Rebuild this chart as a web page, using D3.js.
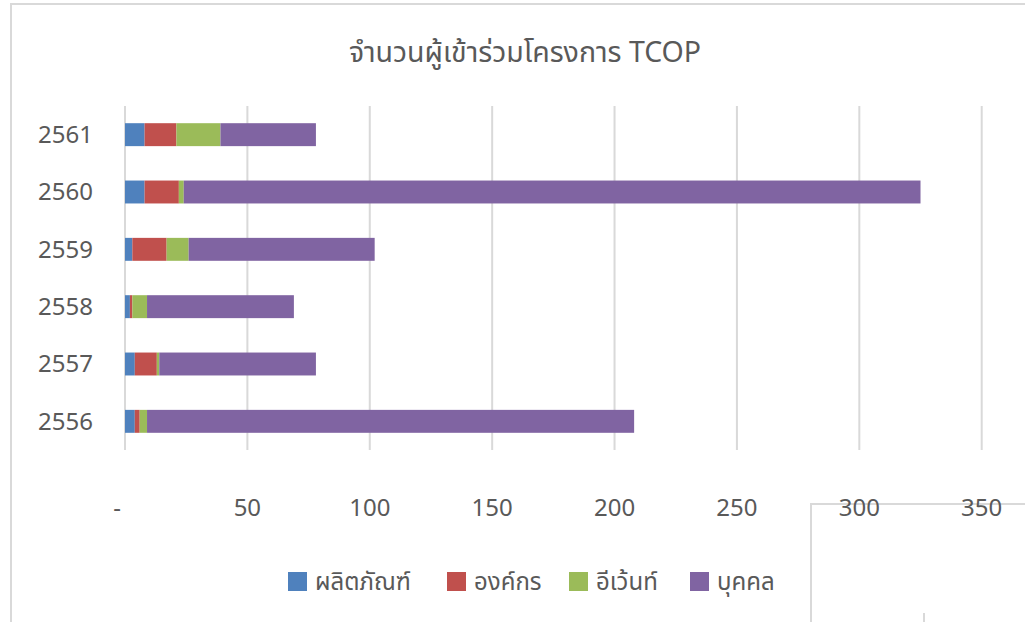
<!DOCTYPE html>
<html>
<head>
<meta charset="utf-8">
<script src="https://cdn.jsdelivr.net/npm/d3@7"></script>
<style>
  html, body { margin: 0; padding: 0; background: #fff; }
  svg { display: block; }
  text { font-family: "Noto Sans Thai", "Noto Sans", "DejaVu Sans", sans-serif; fill: #595959; }
</style>
</head>
<body>
<svg id="chart" width="1025" height="622"></svg>
<script>
const title = "จำนวนผู้เข้าร่วมโครงการ TCOP";
const years = ["2561", "2560", "2559", "2558", "2557", "2556"];
const seriesNames = ["ผลิตภัณฑ์", "องค์กร", "อีเว้นท์", "บุคคล"];
const seriesColors = ["#4f81bd", "#c0504d", "#9bbb59", "#8064a2"];
const product = [8, 8, 3, 2, 4, 4];
const organization = [13, 14, 14, 1, 9, 2];
const eventVals = [18, 2, 9, 6, 1, 3];
const person = [39, 301, 76, 60, 64, 199];
const tickValues = [0, 50, 100, 150, 200, 250, 300, 350];
const tickLabels = ["-", "50", "100", "150", "200", "250", "300", "350"];

const svg = d3.select("#chart");
const gridColor = "#d9d9d9";

// chart frame (outer border of the chart object)
svg.append("path")
  .attr("d", "M11,622 L11,4 L1025,4")
  .attr("fill", "none").attr("stroke", gridColor).attr("stroke-width", 2);

const x = d3.scaleLinear().domain([0, 350]).range([125, 981.7]);
const y = d3.scaleBand().domain(years).range([106, 450]).paddingInner(0.6).paddingOuter(0.3);

// title
svg.append("text")
  .attr("x", 525).attr("y", 62)
  .attr("text-anchor", "middle")
  .style("font-size", "28.5px")
  .text(title);

// gridlines
svg.append("g").selectAll("line").data(tickValues).join("line")
  .attr("x1", d => x(d)).attr("x2", d => x(d))
  .attr("y1", 106).attr("y2", 450)
  .attr("stroke", gridColor).attr("stroke-width", 2);

// stacked bars
const stackData = years.map((yr, i) => {
  const vals = [product[i], organization[i], eventVals[i], person[i]];
  const o = { year: yr };
  seriesNames.forEach((s, k) => o[s] = vals[k]);
  return o;
});
const stacked = d3.stack().keys(seriesNames)(stackData);

svg.append("g").selectAll("g").data(stacked).join("g")
  .attr("fill", (d, i) => seriesColors[i])
  .selectAll("rect").data(d => d).join("rect")
  .attr("x", d => x(d[0]))
  .attr("width", d => x(d[1]) - x(d[0]))
  .attr("y", d => y(d.data.year))
  .attr("height", y.bandwidth());

// category labels
svg.append("g").selectAll("text").data(years).join("text")
  .attr("x", 93)
  .attr("y", d => y(d) + y.bandwidth() / 2)
  .attr("dy", "0.35em")
  .attr("text-anchor", "end")
  .style("font-size", "24px")
  .text(d => d);

// overlapping frame of a neighbouring object (bottom right)
svg.append("path")
  .attr("d", "M811,622 L811,504 L1025,504")
  .attr("fill", "none").attr("stroke", gridColor).attr("stroke-width", 2);
svg.append("line")
  .attr("x1", 924).attr("x2", 924).attr("y1", 613).attr("y2", 622)
  .attr("stroke", gridColor).attr("stroke-width", 2);

// value axis labels
svg.append("g").selectAll("text").data(tickValues).join("text")
  .attr("x", (d, i) => i === 0 ? x(d) - 8 : x(d))
  .attr("y", 516)
  .attr("text-anchor", "middle")
  .style("font-size", "24px")
  .text((d, i) => tickLabels[i]);

// legend
const legendX = [288, 447, 569, 690];
const legend = svg.append("g").selectAll("g").data(seriesNames).join("g")
  .attr("transform", (d, i) => `translate(${legendX[i]},572)`);
legend.append("rect").attr("width", 19).attr("height", 19).attr("fill", (d, i) => seriesColors[i]);
legend.append("text").attr("x", 27).attr("y", 9.5).attr("dy", "0.35em")
  .style("font-size", "24px").text(d => d);
</script>
</body>
</html>
